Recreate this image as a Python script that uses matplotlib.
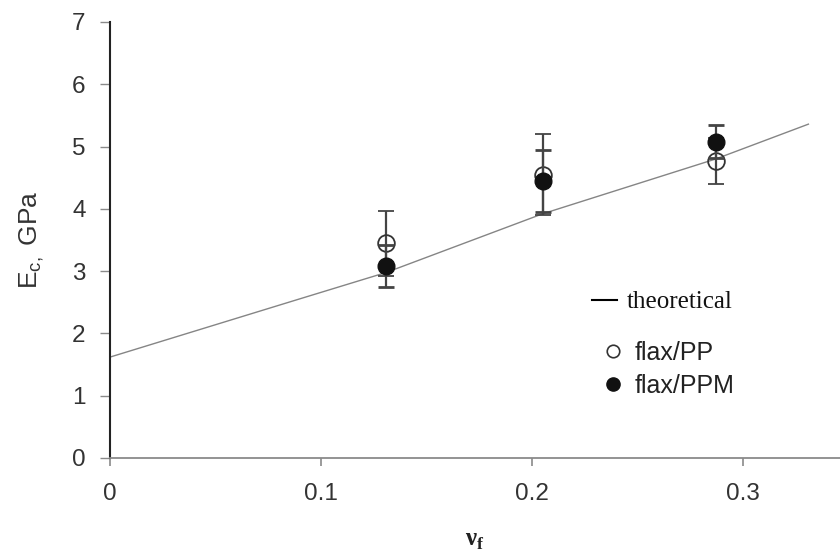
import matplotlib.pyplot as plt
from matplotlib.lines import Line2D

# theoretical curve
theory_vf = [0.0, 0.0885, 0.131, 0.205, 0.287, 0.331]
theory_E = [1.62, 2.54, 2.98, 3.92, 4.80, 5.36]

# measured points
vf = [0.131, 0.205, 0.287]
pp_E = [3.45, 4.55, 4.77]
pp_err = [0.52, 0.65, 0.37]
ppm_E = [3.08, 4.45, 5.08]
ppm_err = [0.34, 0.50, 0.27]

xticks = [0, 0.1, 0.2, 0.3]
xticklabels = ["0", "0.1", "0.2", "0.3"]
yticks = [0, 1, 2, 3, 4, 5, 6, 7]

plt.rcParams['font.family'] = ['Liberation Sans', 'DejaVu Sans']
plt.rcParams['mathtext.fontset'] = 'custom'
plt.rcParams['mathtext.rm'] = 'Liberation Sans'

fig = plt.figure(figsize=(8.4, 5.5), dpi=100)
ax = fig.add_axes([110 / 840, 1 - 458 / 550, 730 / 840, 436 / 550])

ax.plot(theory_vf, theory_E, color="#858585", lw=1.0, zorder=2)

ecol = "#444444"
ax.errorbar(vf, pp_E, yerr=pp_err, fmt="o", ms=12, mfc="none", mec="#333333",
            mew=1.3, ecolor=ecol, elinewidth=1.6, capsize=6, capthick=2, zorder=3)
ax.errorbar(vf, ppm_E, yerr=ppm_err, fmt="o", ms=12, mfc="#111111", mec="#111111",
            ecolor=ecol, elinewidth=1.6, capsize=6, capthick=2, zorder=4)

ax.set_xlim(0, 730 / 2110)
ax.set_ylim(0, 7)
ax.set_xticks(xticks)
ax.set_xticklabels(xticklabels)
ax.set_yticks(yticks)

for s in ["top", "right"]:
    ax.spines[s].set_visible(False)
ax.spines["left"].set_color("#222222")
ax.spines["left"].set_linewidth(1.5)
ax.spines["bottom"].set_color("#8a8a8a")
ax.spines["bottom"].set_linewidth(1.3)

ax.tick_params(axis="x", length=6, width=1.2, color="#8a8a8a", pad=12,
               labelsize=17.5, labelcolor="#333333")
ax.tick_params(axis="y", length=7.5, width=1.0, color="#8a8a8a", pad=10,
               labelsize=17.5, labelcolor="#333333")

ax.set_ylabel(r"E$_\mathregular{c,}$ GPa", fontsize=19, color="#333333", labelpad=19)
ax.set_xlabel(r"ν$_\mathregular{f}$", fontsize=18, color="#222222", labelpad=17,
              family=["Liberation Serif"], fontweight="bold")

# legend: theoretical line (serif text)
leg1 = ax.legend([Line2D([], [], color="black", lw=1.5)], ["theoretical"],
                 loc="center left", bbox_to_anchor=(482 / 730, 156 / 436),
                 frameon=False, prop={"family": ["Liberation Serif"], "size": 18},
                 handlelength=1.0, handletextpad=0.4, borderpad=0, borderaxespad=0)
leg1.get_texts()[0].set_color("#111111")
ax.add_artist(leg1)

# legend: the two materials
handles = [
    Line2D([], [], ls="none", marker="o", ms=9, mfc="white", mec="#333333", mew=1.2),
    Line2D([], [], ls="none", marker="o", ms=9.5, mfc="#111111", mec="#111111"),
]
leg2 = ax.legend(handles, ["flax/PP", "flax/PPM"],
                 loc="center left", bbox_to_anchor=(495.5 / 730, 88.5 / 436),
                 frameon=False, fontsize=18, handlelength=0.6, handletextpad=0.58,
                 labelspacing=0.36, borderpad=0, borderaxespad=0)
for t in leg2.get_texts():
    t.set_color("#222222")

fig.savefig("out.png", dpi=100)
